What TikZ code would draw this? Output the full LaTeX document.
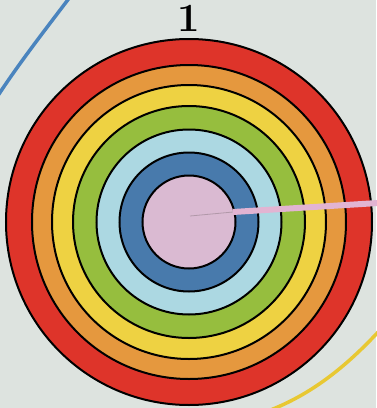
\documentclass[tikz,border=0pt]{standalone}
\usetikzlibrary{positioning, calc}
\usepackage{xcolor}
\definecolor{papercolor}{RGB}{221,227,223}
\definecolor{redring}{RGB}{222,52,42}
\definecolor{orangering}{RGB}{229,152,62}
\definecolor{yellowring}{RGB}{238,210,66}
\definecolor{greenring}{RGB}{150,190,62}
\definecolor{lightbluering}{RGB}{172,216,226}
\definecolor{bluering}{RGB}{72,122,172}
\definecolor{pinkring}{RGB}{218,186,210}
\definecolor{pointercolor}{RGB}{226,180,210}
\definecolor{orbitblue}{RGB}{74,132,190}
\definecolor{orbityellow}{RGB}{232,200,50}

\begin{document}
\begin{tikzpicture}[
    x=1pt, y=-1pt,
    ring/.style={circle, draw=black, line width=2pt, inner sep=0pt, outer sep=0pt},
    orbit/.style={line width=3.5pt, line cap=round},
    pointer/.style={pointercolor, line width=6pt},
    label/.style={font=\fontsize{40}{40}\selectfont\bfseries, inner sep=0pt}
]
    % Background
    \fill[papercolor] (0,0) rectangle (376,408);
    \useasboundingbox (0,0) rectangle (376,408);

    % Orbits of the neighbouring pictures
    \coordinate (blueA) at (70,-3);
    \coordinate (blueB) at (-3,97);
    \coordinate (yellowA) at (380,330);
    \coordinate (yellowB) at (268,411);
    \draw[orbit, orbitblue] (blueA) .. controls (45,30) and (20,62) .. (blueB);
    \draw[orbit, orbityellow] (yellowA) .. controls (345,368) and (310,395) .. (yellowB);

    % Rings
    \coordinate (centre) at (189,222);
    \node[ring, fill=redring, minimum size=366pt] (red) at (centre) {};
    \node[ring, fill=orangering, minimum size=314pt] (orange) at (centre) {};
    \node[ring, fill=yellowring, minimum size=274pt] (yellow) at (centre) {};
    \node[ring, fill=greenring, minimum size=232pt] (green) at (centre) {};
    \node[ring, fill=lightbluering, minimum size=185pt] (lightblue) at (centre) {};
    \node[ring, fill=bluering, minimum size=139pt] (blue) at (centre) {};
    \node[ring, fill=pinkring, minimum size=93pt] (pink) at (centre) {};

    % Number
    \node[label, above=7pt of red.north] (number) {1};

    % Pointer
    \coordinate (start) at (190,216);
    \coordinate (bend) at (233,212);
    \coordinate (edge) at (378,203);
    \draw[pointercolor!70!black!80, line width=0.8pt] (start) -- (bend);
    \draw[pointer] (bend) -- (edge);

\end{tikzpicture}
\end{document}
